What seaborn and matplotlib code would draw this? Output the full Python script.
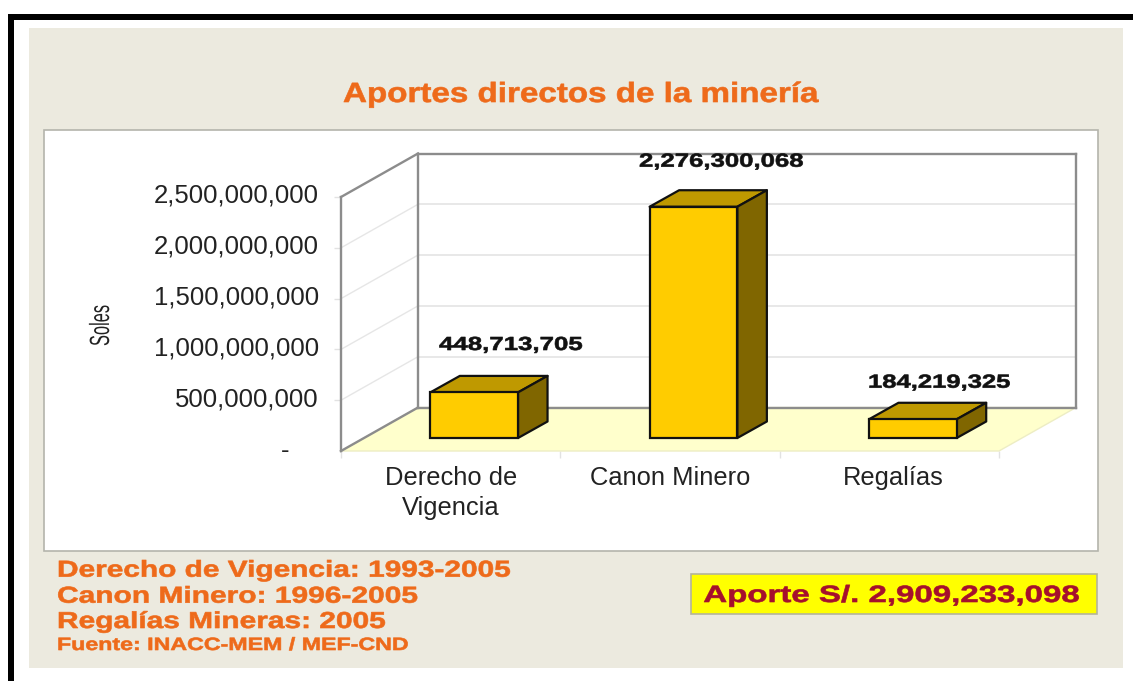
import pandas as pd
import seaborn as sns
import matplotlib.pyplot as plt
import matplotlib.patheffects as pe
from matplotlib.patches import Rectangle, Polygon
from matplotlib.lines import Line2D
from matplotlib.transforms import Affine2D, IdentityTransform

categories = ['Derecho de\nVigencia', 'Canon Minero', 'Regalías']
aportes = [448713705, 2276300068, 184219325]
y_ticks = [0, 500000000, 1000000000, 1500000000, 2000000000, 2500000000]
title = 'Aportes directos de la minería'
notes = ['Derecho de Vigencia: 1993-2005', 'Canon Minero: 1996-2005', 'Regalías Mineras: 2005']
source = 'Fuente: INACC-MEM / MEF-CND'
total = 'Aporte S/. 2,909,233,098'

# label placement in picture pixels (left, right, baseline)
label_px = [(439, 583, 350), (639, 804, 166.7), (868, 1010.7, 387.7)]
notes_px = [(57, 509, 576.7), (57, 416, 602.7), (57, 384, 628)]

W, H = 1133, 681
ORANGE = '#EE6A1A'

sns.set_style('white')
plt.rcParams['font.family'] = ['Liberation Sans', 'DejaVu Sans']

fig = plt.figure(figsize=(W / 100, H / 100), dpi=100, facecolor='white')
renderer = fig.canvas.get_renderer()


class StretchX(pe.AbstractPathEffect):
    # the source picture has its text squeezed/stretched sideways and a bit fatter
    def __init__(self, sx, stroke=0.0):
        super().__init__()
        self.sx = sx
        self.stroke = stroke

    def draw_path(self, renderer, gc, tpath, affine, rgbFace=None):
        gc0 = renderer.new_gc()
        gc0.copy_properties(gc)
        gc0.set_linewidth(self.stroke)
        gc0.set_foreground(rgbFace)
        renderer.draw_path(gc0, tpath, Affine2D().scale(self.sx, 1) + affine, rgbFace)
        gc0.restore()


def fig_rect(x0, y0, x1, y1, **kw):
    fig.add_artist(Rectangle((x0 / W, 1 - y1 / H), (x1 - x0) / W, (y1 - y0) / H,
                             transform=fig.transFigure, **kw))


def put_text(s, x0, x1, base, size, color, weight='bold', rotation=0, stroke=0.45):
    t = fig.text(x0 / W, 1 - base / H, s, ha='left', va='baseline', fontsize=size,
                 color=color, fontweight=weight, zorder=10, rotation_mode='anchor')
    t.set_path_effects([StretchX((x1 - x0) / t.get_window_extent(renderer).width, stroke)])
    t.set_rotation(rotation)
    return t


# page background, black border, white chart box
fig_rect(8, 13.5, W, 19.5, fc='black', ec='none')
fig_rect(8, 13.5, 14, H, fc='black', ec='none')
fig_rect(29, 28, 1123, 668, fc='#ECEADF', ec='none')
fig_rect(44, 130, 1097.5, 550.5, fc='white', ec='#B4B4AC', lw=1.2)

# front plane of the 3d box
ax = fig.add_axes([341 / W, 1 - 451 / H, 658 / W, 254 / H])
ax.set_zorder(5)
ax.patch.set_alpha(0)
df = pd.DataFrame({'categoria': categories, 'soles': aportes})
sns.barplot(data=df, x='categoria', y='soles', color='#FFCC00', saturation=1, width=0.4,
            edgecolor='#111111', linewidth=1.6, ax=ax, zorder=5)
bars = list(ax.containers[0])
ax.set_xlim(-0.5, 2.5)
ax.set_ylim(0, 2500000000)
ax.set_xlabel('')
ax.set_ylabel('')
sns.despine(ax=ax, left=True, bottom=True, right=True, top=True)

ax.set_yticks(y_ticks[1:], [f'{v:,}' for v in y_ticks[1:]])
ax.set_xticks([-0.5, 0.5, 1.5, 2.5], minor=True)
ax.tick_params(axis='y', length=5, width=1, color='#E2E2E2', labelsize=18.5, pad=11,
               labelcolor='#222222', left=True)
ax.tick_params(axis='x', which='major', length=0, labelsize=18.4, pad=11, labelcolor='#222222')
ax.tick_params(axis='x', which='minor', length=5, width=1, color='#E2E2E2', bottom=True)
for lab in ax.get_yticklabels():
    lab.set_transform(lab.get_transform() + Affine2D().translate(0, 3.5))
for lab in ax.get_xticklabels():
    lab.set_linespacing(1.3)
last = ax.get_xticklabels()[-1]
last.set_transform(last.get_transform() + Affine2D().translate(3.5, 0))
ax.annotate('-', (0, 0), xycoords=('axes fraction', 'data'), xytext=(-56, 0),
            textcoords='offset pixels', ha='center', va='center', fontsize=18.5, color='#222222')

# walls and floor, worked out from the axes scale
DEPTH = (77, 43.5)
BAR_SHIFT = (23.5, 13)
BAR_DEPTH = (29.5, 16.5)
to_px = ax.transData.transform


def shifted(p, d):
    return (p[0] + d[0], p[1] + d[1])


def poly(pts, **kw):
    ax.add_artist(Polygon(pts, closed=True, transform=IdentityTransform(), clip_on=False, **kw))


def seg(a, b, **kw):
    ax.add_artist(Line2D([a[0], b[0]], [a[1], b[1]], transform=IdentityTransform(), clip_on=False, **kw))


fl, fr = to_px((-0.5, 0)), to_px((2.5, 0))
tl = to_px((-0.5, y_ticks[-1]))
poly([fl, fr, shifted(fr, DEPTH), shifted(fl, DEPTH)], fc='#FFFFCC', ec='#EDEDC4', lw=1, zorder=1)
for v in y_ticks[1:-1]:
    p = to_px((-0.5, v))
    seg(p, shifted(p, DEPTH), color='#E6E6E6', lw=1, zorder=1.5)
    q = to_px((2.5, v))
    seg(shifted(p, DEPTH), shifted(q, DEPTH), color='#E6E6E6', lw=1.3, zorder=1.5)
WALL = dict(color='#8C8C8C', lw=1.7, zorder=2, solid_capstyle='projecting')
seg(fl, tl, **WALL)
seg(fl, shifted(fl, DEPTH), **WALL)
seg(tl, shifted(tl, DEPTH), **WALL)
seg(shifted(fl, DEPTH), shifted(tl, DEPTH), **WALL)
seg(shifted(tl, DEPTH), shifted(to_px((2.5, y_ticks[-1])), DEPTH), **WALL)
seg(shifted(fr, DEPTH), shifted(to_px((2.5, y_ticks[-1])), DEPTH), **WALL)
seg(shifted(fl, DEPTH), shifted(fr, DEPTH), **WALL)

# seaborn bars moved onto the floor, then top and side faces added
shift = Affine2D().translate(*BAR_SHIFT)
for bar in bars:
    bar.set_transform(ax.transData + shift)
    bar.set_clip_on(False)
    x0, x1 = bar.get_x(), bar.get_x() + bar.get_width()
    h = bar.get_height()
    a = shifted(to_px((x0, h)), BAR_SHIFT)
    b = shifted(to_px((x1, h)), BAR_SHIFT)
    c = shifted(to_px((x1, 0)), BAR_SHIFT)
    poly([a, b, shifted(b, BAR_DEPTH), shifted(a, BAR_DEPTH)], fc='#BF9900', ec='#111111', lw=1.6, zorder=4, joinstyle='round')
    poly([b, c, shifted(c, BAR_DEPTH), shifted(b, BAR_DEPTH)], fc='#806600', ec='#111111', lw=1.6, zorder=4, joinstyle='round')

# texts
put_text(title, 343, 818, 102, 20, ORANGE)
for v, (x0, x1, base) in zip(aportes, label_px):
    put_text(f'{v:,}', x0, x1, base, 13.6, '#111111')
for s, (x0, x1, base) in zip(notes, notes_px):
    put_text(s, x0, x1, base, 16.6, ORANGE)
put_text(source, 57, 408, 650, 12.8, ORANGE)
put_text('Soles', 109, 150, 346, 20, '#222222', weight='normal', rotation=90, stroke=0)

fig_rect(691, 574, 1096.7, 614, fc='#FFFF00', ec='#B4B49A', lw=1.2)
put_text(total, 703.3, 1080.7, 602, 17, '#A50F2D')

fig.savefig('out.png', dpi=100)
